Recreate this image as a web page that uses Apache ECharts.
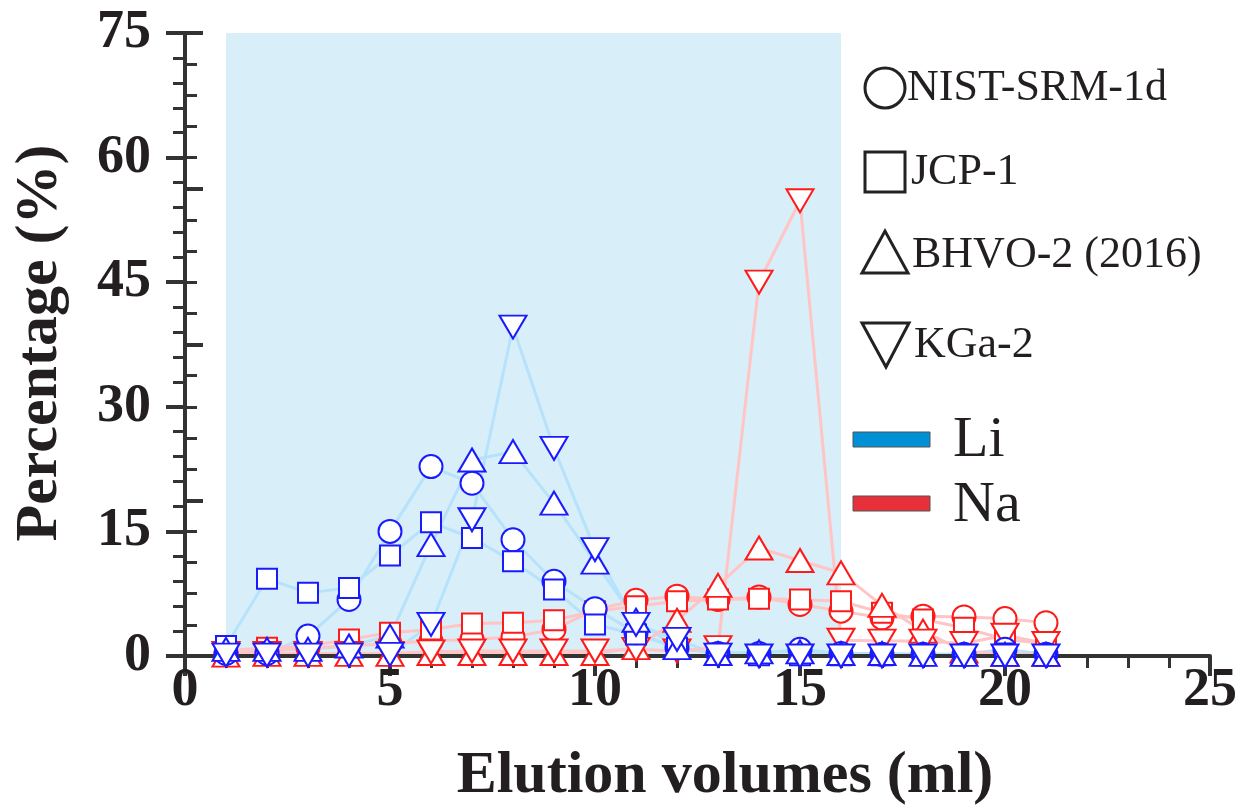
<!DOCTYPE html>
<html>
<head>
<meta charset="utf-8">
<script src="https://cdn.jsdelivr.net/npm/echarts@6/dist/echarts.min.js"></script>
<style>
html,body{margin:0;padding:0;background:#fff;}
#chart{width:1248px;height:812px;}
</style>
</head>
<body>
<div id="chart"></div>
<script>
// ---- data ----
const volumes = [1,2,3,4,5,6,7,8,9,10,11,12,13,14,15,16,17,18,19,20,21];
const xTicks = [0,5,10,15,20,25];
const yTicks = [0,15,30,45,60,75];
const shadeRange = [1,16];
const sampleNames = ['NIST-SRM-1d','JCP-1','BHVO-2 (2016)','KGa-2'];
const elementNames = ['Li','Na'];

const liNIST = [0.3,0.3,2.4,6.8,15.0,22.8,20.8,14.0,9.0,5.7,2.8,1.0,0.3,0.3,0.8,0.3,0.2,0.2,0.2,0.8,0.2];
const liJCP  = [1.2,9.3,7.6,8.2,12.1,16.1,14.2,11.4,8.0,3.8,2.6,1.0,0.3,0.1,0.1,0.1,0.1,0.1,0.1,0.3,0.1];
const liBHVO = [0.8,0.8,0.8,1.2,2.4,13.4,23.6,24.6,18.4,11.3,4.3,1.0,0.3,0.5,0.5,0.3,0.3,0.2,0.2,0.2,0.2];
const liKGa  = [0.1,0.1,0.1,0.1,0.2,3.8,16.4,39.6,25.0,12.8,3.8,2.0,0.1,0.0,0.0,0.0,0.0,0.0,0.0,0.0,0.0];

const naNIST = [0.3,0.5,1.0,1.2,1.5,1.8,2.0,2.3,3.2,5.6,6.7,7.2,6.8,7.1,6.2,5.4,4.6,4.8,4.7,4.5,4.0];
const naJCP  = [0.6,1.0,1.2,2.0,2.8,3.2,3.9,4.0,4.3,5.4,6.0,6.6,6.8,6.9,6.8,6.6,5.2,4.4,3.4,2.0,1.5];
const naBHVO = [0.1,0.2,0.2,0.2,0.2,0.3,0.3,0.3,0.3,0.3,1.0,4.3,8.5,13.0,11.5,10.0,6.1,3.0,0.6,0.2,0.2];
const naKGa  = [0.3,0.3,0.3,0.3,0.3,0.5,0.6,0.6,0.6,0.6,0.8,0.6,1.0,45.0,54.8,1.9,1.8,1.8,1.5,2.5,1.5];

// ---- styles ----
const FONT = '"Liberation Serif","Times New Roman",serif';
const TXT = '#231f20';
const AX = '#333333';
const liLine = '#b6e2fb', naLine = '#ffc4c4';
const liMark = '#1a1aff', naMark = '#ff1a1a';
const symbols = [
  {symbol:'circle', size:23, rot:0},
  {symbol:'rect', size:20, rot:0},
  {symbol:'triangle', size:[27,23], rot:0},
  {symbol:'triangle', size:[27,23], rot:180}
];

function pts(arr){ return volumes.map((v,i)=>[v, arr[i]]); }
function lineS(name, arr, color){
  return {name:name, type:'line', data:pts(arr), showSymbol:false, silent:true,
    lineStyle:{color:color, width:3}, z:2};
}
function markS(name, arr, k, color){
  const s = symbols[k];
  return {name:name, type:'scatter', data:pts(arr), symbol:s.symbol, symbolSize:s.size,
    symbolRotate:s.rot, silent:true,
    itemStyle:{color:'#ffffff', borderColor:color, borderWidth:2, opacity:1}, z:4};
}

const liSets = [liNIST, liJCP, liBHVO, liKGa];
const naSets = [naNIST, naJCP, naBHVO, naKGa];

const series = [];
series.push({type:'line', data:[], z:0, silent:true,
  markArea:{silent:true, itemStyle:{color:'#d8eef9'},
    data:[[{xAxis:shadeRange[0], yAxis:yTicks[0]},{xAxis:shadeRange[1], yAxis:yTicks[yTicks.length-1]}]]}});
liSets.forEach((a,k)=>series.push(lineS('Li '+sampleNames[k], a, liLine)));
naSets.forEach((a,k)=>series.push(lineS('Na '+sampleNames[k], a, naLine)));
naSets.forEach((a,k)=>series.push(markS('Na '+sampleNames[k], a, k, naMark)));
liSets.forEach((a,k)=>series.push(markS('Li '+sampleNames[k], a, k, liMark)));

const chart = echarts.init(document.getElementById('chart'), null, {renderer:'canvas'});

const legendX = 885;
const legendRows = [88, 172, 253, 345];
const graphics = [
  {type:'circle', shape:{cx:legendX, cy:legendRows[0], r:20}, style:{fill:'none', stroke:'#222', lineWidth:3}, z:10},
  {type:'rect', shape:{x:legendX-20, y:legendRows[1]-20, width:40, height:40}, style:{fill:'none', stroke:'#222', lineWidth:3}, z:10},
  {type:'polygon', shape:{points:[[legendX-23,legendRows[2]+20],[legendX+23,legendRows[2]+20],[legendX,legendRows[2]-22]]}, style:{fill:'none', stroke:'#222', lineWidth:3}, z:10},
  {type:'polygon', shape:{points:[[legendX-23,legendRows[3]-22],[legendX+24,legendRows[3]-22],[legendX+1,legendRows[3]+22]]}, style:{fill:'none', stroke:'#222', lineWidth:3}, z:10},
  {type:'text', x:907, y:legendRows[0], style:{text:sampleNames[0], font:'44px '+FONT, fill:TXT, verticalAlign:'middle'}, z:10},
  {type:'text', x:911, y:legendRows[1], style:{text:sampleNames[1], font:'44px '+FONT, fill:TXT, verticalAlign:'middle'}, z:10},
  {type:'text', x:912, y:legendRows[2]+2, style:{text:sampleNames[2], font:'44px '+FONT, fill:TXT, verticalAlign:'middle'}, z:10},
  {type:'text', x:914, y:legendRows[3], style:{text:sampleNames[3], font:'44px '+FONT, fill:TXT, verticalAlign:'middle'}, z:10},
  {type:'rect', shape:{x:853, y:432, width:77, height:15}, style:{fill:'#0090d6', stroke:'#555', lineWidth:1}, z:10},
  {type:'rect', shape:{x:853, y:496, width:77, height:15}, style:{fill:'#e8303a', stroke:'#555', lineWidth:1}, z:10},
  {type:'text', x:953, y:441, style:{text:elementNames[0], font:'58px '+FONT, fill:TXT, verticalAlign:'middle'}, z:10},
  {type:'text', x:953, y:506, style:{text:elementNames[1], font:'58px '+FONT, fill:TXT, verticalAlign:'middle'}, z:10},
  {type:'text', x:725, y:776, style:{text:'Elution volumes (ml)', font:'bold 60px '+FONT, fill:TXT, align:'center', verticalAlign:'middle'}, z:10},
  {type:'text', x:40, y:343, rotation:Math.PI/2, style:{text:'Percentage (%)', font:'bold 60px '+FONT, fill:TXT, align:'center', verticalAlign:'middle'}, z:10}
];

const option = {
  animation:false,
  backgroundColor:'#ffffff',
  grid:{left:185, right:38, top:33, bottom:156, containLabel:false},
  xAxis:[{
    type:'value', min:xTicks[0], max:xTicks[xTicks.length-1], interval:5, position:'bottom', z:3,
    axisLine:{show:true, onZero:false, lineStyle:{color:AX, width:4}},
    axisTick:{show:true, length:20, lineStyle:{color:AX, width:4}},
    minorTick:{show:true, splitNumber:5, length:12, lineStyle:{color:AX, width:3}},
    splitLine:{show:false},
    axisLabel:{show:true, margin:8, fontFamily:FONT, fontWeight:'bold', fontSize:54, color:TXT,
      customValues:xTicks}
  },{
    type:'value', min:0, max:25, position:'top', z:3,
    axisLine:{show:true, lineStyle:{color:AX, width:3}},
    axisTick:{show:false}, axisLabel:{show:false}, splitLine:{show:false}
  }],
  yAxis:[{
    type:'value', min:yTicks[0], max:yTicks[yTicks.length-1], interval:15, position:'left', z:3,
    axisLine:{show:true, onZero:false, lineStyle:{color:AX, width:4}},
    axisTick:{show:true, length:19, lineStyle:{color:AX, width:4}},
    minorTick:{show:true, splitNumber:5, length:12, lineStyle:{color:AX, width:3}},
    splitLine:{show:false},
    axisLabel:{show:true, margin:34, fontFamily:FONT, fontWeight:'bold', fontSize:54, color:TXT}
  },{
    type:'value', min:0, max:4, interval:1, position:'right', z:3,
    axisLine:{show:true, lineStyle:{color:AX, width:4}},
    axisTick:{show:true, length:18, lineStyle:{color:AX, width:4}},
    minorTick:{show:true, splitNumber:5, length:12, lineStyle:{color:AX, width:3}},
    axisLabel:{show:false}, splitLine:{show:false}
  }],
  series:series,
  graphic:graphics
};
chart.setOption(option);
</script>
</body>
</html>
